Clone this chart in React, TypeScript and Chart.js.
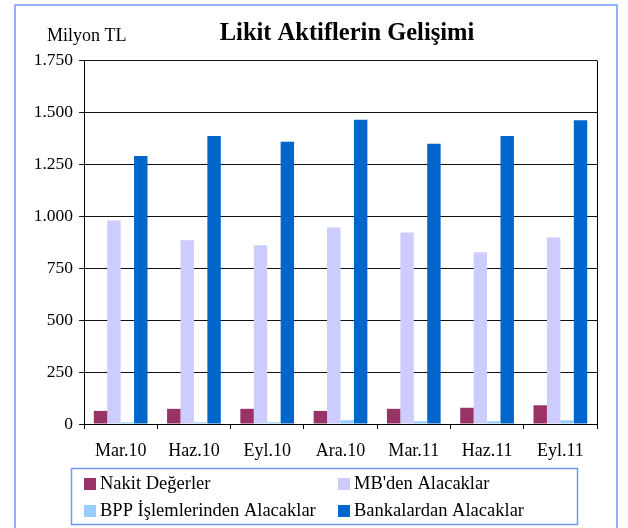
import React, { useEffect, useRef } from "react";
import { Chart, registerables } from "chart.js";

Chart.register(...registerables);

const categories = ["Mar.10", "Haz.10", "Eyl.10", "Ara.10", "Mar.11", "Haz.11", "Eyl.11"];
const nakit = [63, 73, 73, 63, 73, 78, 90];
const mbden = [978, 883, 859, 945, 921, 826, 897];
const bpp = [8, 8, 8, 18, 13, 13, 18];
const bankalar = [1289, 1385, 1357, 1463, 1347, 1385, 1460];
const seriesNames = ["Nakit Değerler", "MB'den Alacaklar", "BPP İşlemlerinden Alacaklar", "Bankalardan Alacaklar"];
const seriesColors = ["#993366", "#ccccff", "#99ccff", "#0066cc"];
const yMax = 1750;
const yStep = 250;
const titleText = "Likit Aktiflerin Gelişimi";
const unitText = "Milyon TL";

const FONT = "'Liberation Serif', 'Times New Roman', serif";

function fmt(v: number) {
  return String(v).replace(/\B(?=(\d{3})+(?!\d))/g, ".");
}

const decorPlugin = {
  id: "decor",
  afterDraw(chart: any) {
    const ctx = chart.ctx;
    const a = chart.chartArea;
    ctx.save();
    // outer border
    ctx.strokeStyle = "#7098ff";
    ctx.lineWidth = 1.5;
    ctx.strokeRect(15, 5, 602, 540);
    // plot border
    ctx.strokeStyle = "#000";
    ctx.lineWidth = 1;
    ctx.beginPath();
    ctx.moveTo(Math.round(a.right) + 0.5, Math.round(a.top) + 0.5);
    ctx.lineTo(Math.round(a.right) + 0.5, Math.round(a.bottom) + 0.5);
    ctx.stroke();
    // titles
    ctx.fillStyle = "#000";
    ctx.textBaseline = "alphabetic";
    ctx.textAlign = "center";
    ctx.font = "bold 24.5px " + FONT;
    ctx.fillText(titleText, 347, 40);
    ctx.textAlign = "left";
    ctx.font = "18px " + FONT;
    ctx.fillText(unitText, 47, 41);
    // legend
    ctx.strokeStyle = "#7098ff";
    ctx.lineWidth = 1.5;
    ctx.strokeRect(71.5, 468.5, 506, 56);
    const cols = [84, 338];
    const rows = [484, 511];
    ctx.font = "18.5px " + FONT;
    ctx.textBaseline = "middle";
    seriesNames.forEach((name, i) => {
      const x = cols[i % 2];
      const y = rows[Math.floor(i / 2)];
      ctx.fillStyle = seriesColors[i];
      ctx.fillRect(x, y - 6, 12, 12);
      ctx.fillStyle = "#000";
      ctx.fillText(name, x + 16, y);
    });
    ctx.restore();
  },
};

export default function App() {
  const ref = useRef<HTMLCanvasElement>(null);
  useEffect(() => {
    if (!ref.current) return;
    const values = [nakit, mbden, bpp, bankalar];
    const chart = new Chart(ref.current, {
      type: "bar",
      data: {
        labels: categories,
        datasets: seriesNames.map((n, i) => ({
          label: n,
          data: values[i],
          backgroundColor: seriesColors[i],
          borderWidth: 0,
          barPercentage: 1,
          categoryPercentage: 0.733,
        })),
      },
      options: {
        responsive: false,
        animation: false,
        layout: { padding: { left: 0, right: 31, top: 60, bottom: 64 } },
        plugins: {
          legend: { display: false },
          title: { display: false },
          tooltip: { enabled: false },
        },
        scales: {
          x: {
            grid: {
              display: true,
              drawOnChartArea: false,
              drawTicks: true,
              tickLength: 5,
              offset: true,
              color: "#000",
            },
            border: { display: true, color: "#000", width: 1 },
            ticks: {
              color: "#000",
              font: { family: FONT, size: 18 },
              padding: 11,
              maxRotation: 0,
            },
            afterFit: (s: any) => {
              s.height = 40;
            },
          },
          y: {
            min: 0,
            max: yMax,
            grid: { color: "#111", lineWidth: 1, drawTicks: true, tickLength: 5 },
            border: { display: true, color: "#000", width: 1 },
            ticks: {
              stepSize: yStep,
              color: "#000",
              font: { family: FONT, size: 17.5 },
              padding: 6,
              callback: (v: any) => fmt(Number(v)),
            },
            afterFit: (s: any) => {
              s.width = 84;
            },
          },
        },
      },
      plugins: [decorPlugin],
    });
    return () => chart.destroy();
  }, []);
  return (
    <div style={{ position: "fixed", left: 0, top: 0, width: 628, height: 528, background: "#fff" }}>
      <canvas ref={ref} width={628} height={528} style={{ display: "block" }} />
    </div>
  );
}
